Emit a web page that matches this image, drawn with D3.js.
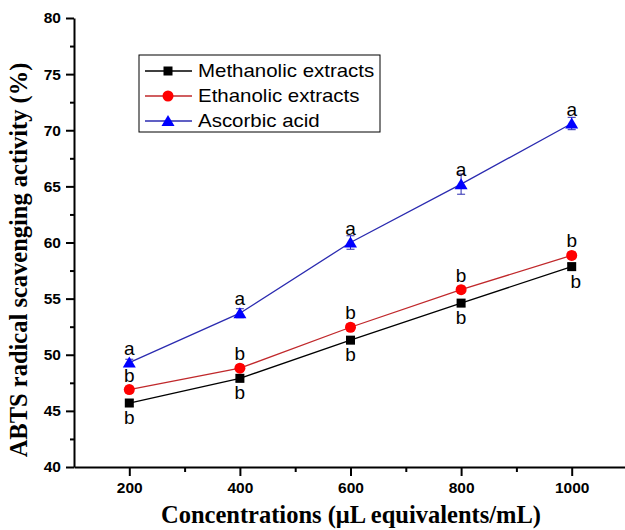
<!DOCTYPE html>
<html><head><meta charset="utf-8">
<script src="https://cdn.jsdelivr.net/npm/d3@7"></script>
<style>html,body{margin:0;padding:0;background:#fff;}</style>
</head><body>
<svg id="chart" width="625" height="530"></svg>
<script>
const concentrations = [200, 400, 600, 800, 1000];
const methanolic = [45.7, 47.9, 51.3, 54.6, 57.85];
const ethanolic = [46.9, 48.8, 52.45, 55.8, 58.85];
const ascorbic = [49.3, 53.7, 60.0, 65.2, 70.6];
const methanolicErr = [0.3, 0.3, 0.3, 0.3, 0.3];
const ethanolicErr = [0.3, 0.3, 0.3, 0.3, 0.3];
const ascorbicErr = [0.3, 0.4, 0.6, 0.9, 0.55];
const methanolicLetters = ["b", "b", "b", "b", "b"];
const ethanolicLetters = ["b", "b", "b", "b", "b"];
const ascorbicLetters = ["a", "a", "a", "a", "a"];
const xTicks = [200, 400, 600, 800, 1000];
const xMinorTicks = [300, 500, 700, 900];
const yTicks = [40, 45, 50, 55, 60, 65, 70, 75, 80];
const yMinorTicks = [42.5, 47.5, 52.5, 57.5, 62.5, 67.5, 72.5, 77.5];
const seriesNames = ["Methanolic extracts", "Ethanolic extracts", "Ascorbic acid"];

const svg = d3.select("#chart");
const x = d3.scaleLinear().domain([100, 1100]).range([74, 627]);
const y = d3.scaleLinear().domain([40, 80]).range([467, 18]);

const series = [
  {name: seriesNames[0], vals: methanolic, err: methanolicErr, letters: methanolicLetters, line: "#000000", fill: "#000000", shape: "square", labelDir: 1},
  {name: seriesNames[1], vals: ethanolic, err: ethanolicErr, letters: ethanolicLetters, line: "#c0282b", fill: "#ff0000", shape: "circle", labelDir: -1},
  {name: seriesNames[2], vals: ascorbic, err: ascorbicErr, letters: ascorbicLetters, line: "#2b2bb0", fill: "#0000ff", shape: "triangle", labelDir: -1}
];

function drawMarker(g, shape, cx, cy, fill) {
  if (shape === "square") {
    g.append("rect").attr("x", cx - 4.5).attr("y", cy - 4.5).attr("width", 9).attr("height", 9).attr("fill", fill);
  } else if (shape === "circle") {
    g.append("circle").attr("cx", cx).attr("cy", cy).attr("r", 5.5).attr("fill", fill);
  } else {
    g.append("path").attr("d", `M${cx},${cy-6} L${cx+6.5},${cy+5} L${cx-6.5},${cy+5} Z`).attr("fill", fill);
  }
}

// Axes
const fmt = d3.format("d");
const xAxis = svg.append("g").attr("transform", "translate(0,467)")
  .call(d3.axisBottom(x).tickValues(xTicks).tickFormat(fmt).tickSize(9).tickSizeOuter(0).tickPadding(6));
const xMinor = svg.append("g").attr("transform", "translate(0,467)")
  .call(d3.axisBottom(x).tickValues(xMinorTicks).tickSize(5).tickSizeOuter(0).tickFormat(""));
const yAxis = svg.append("g").attr("transform", "translate(74,0)")
  .call(d3.axisLeft(y).tickValues(yTicks).tickFormat(fmt).tickSize(8).tickSizeOuter(0).tickPadding(5));
const yMinor = svg.append("g").attr("transform", "translate(74,0)")
  .call(d3.axisLeft(y).tickValues(yMinorTicks).tickSize(4).tickSizeOuter(0).tickFormat(""));
[xAxis, xMinor, yAxis, yMinor].forEach(a => {
  a.selectAll("path.domain").attr("stroke", "#000").attr("stroke-width", 2);
  a.selectAll(".tick line").attr("stroke", "#000").attr("stroke-width", 2);
  a.selectAll(".tick text").attr("font-family", "Liberation Sans, Arial, sans-serif")
    .attr("font-weight", "bold").attr("font-size", 15.5).attr("fill", "#000");
});
xMinor.select("path.domain").remove();
yMinor.select("path.domain").remove();

// Lines
const line = d3.line().x((d, i) => x(concentrations[i])).y(d => y(d));
series.forEach(s => {
  svg.append("path").datum(s.vals).attr("d", line).attr("fill", "none")
    .attr("stroke", s.line).attr("stroke-width", 1.3);
});

// Error bars, markers, letters
series.forEach(s => {
  const g = svg.append("g");
  s.vals.forEach((v, i) => {
    const cx = x(concentrations[i]);
    const cy = y(v);
    const e = s.err[i];
    const eg = g.append("g").attr("stroke", s.line).attr("stroke-width", 1);
    eg.append("line").attr("x1", cx).attr("x2", cx).attr("y1", y(v - e)).attr("y2", y(v + e));
    eg.append("line").attr("x1", cx - 4).attr("x2", cx + 4).attr("y1", y(v - e)).attr("y2", y(v - e));
    eg.append("line").attr("x1", cx - 4).attr("x2", cx + 4).attr("y1", y(v + e)).attr("y2", y(v + e));
    drawMarker(g, s.shape, cx, cy, s.fill);
    g.append("text").attr("x", cx + (s.labelDir > 0 && i === 4 ? 4 : 0))
      .attr("y", s.labelDir > 0 ? cy + 21 : cy - 8)
      .attr("text-anchor", "middle")
      .attr("font-family", "Liberation Sans, Arial, sans-serif").attr("font-size", 19)
      .attr("fill", "#000").text(s.letters[i]);
  });
});

// Legend
const lg = svg.append("g");
lg.append("rect").attr("x", 139).attr("y", 55).attr("width", 241).attr("height", 77)
  .attr("fill", "#fff").attr("stroke", "#000").attr("stroke-width", 1);
const rowY = [71, 96, 121];
series.forEach((s, i) => {
  lg.append("line").attr("x1", 145).attr("x2", 192).attr("y1", rowY[i]).attr("y2", rowY[i])
    .attr("stroke", s.line).attr("stroke-width", 1.3);
  drawMarker(lg, s.shape, 168, rowY[i], s.fill);
  lg.append("text").attr("transform", `translate(198,${rowY[i] + 6}) scale(1.17,1)`)
    .attr("font-family", "Liberation Sans, Arial, sans-serif").attr("font-size", 17.5)
    .attr("fill", "#000").text(s.name);
});

// Axis titles
svg.append("text").attr("x", 351).attr("y", 523).attr("text-anchor", "middle")
  .attr("font-family", "Liberation Serif, Times New Roman, serif").attr("font-weight", "bold")
  .attr("font-size", 24.5).attr("fill", "#000").text("Concentrations (μL equivalents/mL)");
svg.append("text").attr("transform", "translate(27,260) rotate(-90)").attr("text-anchor", "middle")
  .attr("font-family", "Liberation Serif, Times New Roman, serif").attr("font-weight", "bold")
  .attr("font-size", 24.5).attr("fill", "#000").text("ABTS radical scavenging activity (%)");
</script>
</body></html>
